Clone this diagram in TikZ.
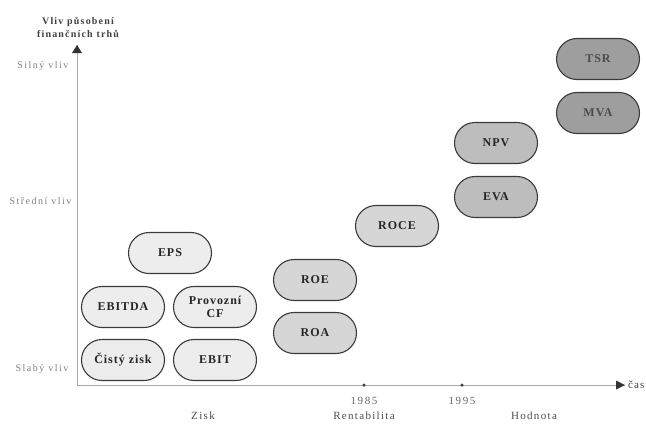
\documentclass[tikz,border=0pt]{standalone}
\usepackage{fontspec}
\setmainfont{Liberation Serif}
\usetikzlibrary{shapes.misc,arrows.meta}
\definecolor{outline}{HTML}{3A3A3A}
\definecolor{axisgray}{HTML}{A8A8A8}
\definecolor{labelgray}{HTML}{808080}
\definecolor{fillA}{HTML}{EDEDED}
\definecolor{fillB}{HTML}{D6D6D6}
\definecolor{fillC}{HTML}{BDBDBD}
\definecolor{fillD}{HTML}{9E9E9E}
\tikzset{
  pill/.style={rounded rectangle, draw=outline, line width=1.1pt,
    minimum width=85pt, minimum height=41pt, inner sep=1pt,
    font=\bfseries\fontsize{12}{13}\selectfont\addfontfeatures{LetterSpace=8},
    text=black!85, align=center},
  profit/.style={pill, fill=fillA},
  yield/.style={pill, fill=fillB},
  valueA/.style={pill, fill=fillC},
  valueB/.style={pill, fill=fillD, text=black!70},
  axisline/.style={draw=axisgray, line width=0.6pt},
  tickdot/.style={circle, fill=black!75, inner sep=0pt, minimum size=3.5pt},
  level/.style={anchor=east, text=labelgray, font=\fontsize{10}{11}\selectfont\addfontfeatures{LetterSpace=15}},
  era/.style={text=black!70, font=\fontsize{11}{12}\selectfont\addfontfeatures{LetterSpace=12}},
  year/.style={text=black!60, font=\fontsize{11}{12}\selectfont\addfontfeatures{LetterSpace=15}},
}
\begin{document}
\begin{tikzpicture}[x=1pt,y=-1pt]
\useasboundingbox (0,0) rectangle (646,424);
\clip (0,0) rectangle (646,424);

% axes
\coordinate (origin) at (77,385);
\coordinate (ytop) at (77,45);
\coordinate (xend) at (625,385);
\draw[axisline] (origin) -- (ytop);
\draw[axisline] (origin) -- (xend);
\fill[black!80] (ytop) -- ++(-5,8) -- ++(10,0) -- cycle;
\fill[black!80] (xend) -- ++(-9,-4.5) -- ++(0,9) -- cycle;

% axis titles
\node[align=center, text=black!75, font=\bfseries\fontsize{10}{13}\selectfont\addfontfeatures{LetterSpace=12}] (ytitle) at (78,27) {Vliv působení\\finančních trhů};
\node[anchor=west, inner sep=0pt, text=black!75, font=\fontsize{11}{12}\selectfont\addfontfeatures{LetterSpace=10}] (xtitle) at (628,385) {čas};

% influence levels
\node[level] (strong) at (72,66) {Silný vliv};
\node[level] (medium) at (75,201) {Střední vliv};
\node[level] (weak) at (72,369) {Slabý vliv};

% time marks
\node[tickdot] (t1985) at (364,385) {};
\node[tickdot] (t1995) at (462,385) {};
\node[year] (y1985) at (364,401) {1985};
\node[year] (y1995) at (462,401) {1995};

% eras
\node[era] (zisk) at (203,416) {Zisk};
\node[era] (rent) at (364,416) {Rentabilita};
\node[era] (hodnota) at (534,416) {Hodnota};

% profit measures
\node[profit] (eps) at (170,253) {EPS};
\node[profit] (ebitda) at (123,307) {EBITDA};
\node[profit] (pcf) at (215,307) {Provozní\\CF};
\node[profit] (cisty) at (123,360) {Čistý zisk};
\node[profit] (ebit) at (215,360) {EBIT};

% profitability measures
\node[yield] (roe) at (315,280) {ROE};
\node[yield] (roa) at (315,333) {ROA};
\node[yield] (roce) at (397,226) {ROCE};

% value measures
\node[valueA] (npv) at (496,143) {NPV};
\node[valueA] (eva) at (496,197) {EVA};
\node[valueB] (tsr) at (598,59) {TSR};
\node[valueB] (mva) at (598,113) {MVA};
\end{tikzpicture}
\end{document}
